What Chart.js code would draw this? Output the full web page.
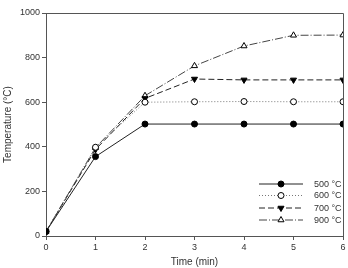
<!DOCTYPE html>
<html>
<head>
<meta charset="utf-8">
<script src="https://cdn.jsdelivr.net/npm/chart.js@4"></script>
<style>
  html, body { margin: 0; padding: 0; background: #fff; }
  #wrap { width: 348px; height: 268px; }
</style>
</head>
<body>
<div id="wrap"><canvas id="c" width="348" height="268"></canvas></div>
<script>
// time in minutes
const times = [0, 1, 2, 3, 4, 5, 6]
const labels500 = "500 °C"
const labels600 = "600 °C"
const labels700 = "700 °C"
const labels900 = "900 °C"
const t500 = [20, 356, 502, 502, 502, 502, 502]
const t600 = [20, 398, 600, 602, 603, 602, 602]
const t700 = [20, 388, 617, 704, 700, 700, 700]
const t900 = [20, 396, 629, 763, 852, 900, 901]
const yTicks = [0, 200, 400, 600, 800, 1000]

const FONT = "'Liberation Sans', Arial, sans-serif"
const TXT = "#333"

function pts(arr) {
    return arr.map((v, i) => ({ x: times[i], y: v }))
}

function drawMarker(ctx, ds, x, y) {
    ctx.save()
    ctx.fillStyle = ds.pointBackgroundColor
    ctx.strokeStyle = ds.pointBorderColor
    ctx.lineWidth = 1
    Chart.helpers.drawPoint(ctx, {
        pointStyle: ds.pointStyle,
        radius: ds.pointRadius,
        rotation: ds.pointRotation || 0,
        borderWidth: 1
    }, x, y)
    ctx.restore()
}

// frame on top/right + custom legend (line with marker in the middle)
const framePlugin = {
    id: 'frame',
    afterDraw(chart) {
        const { ctx, chartArea: a } = chart
        ctx.save()
        ctx.strokeStyle = "#555"
        ctx.lineWidth = 1
        ctx.beginPath()
        ctx.moveTo(a.left, a.top + 0.5)
        ctx.lineTo(a.right + 0.5, a.top + 0.5)
        ctx.lineTo(a.right + 0.5, a.bottom)
        ctx.stroke()

        // legend
        const rows = [184, 195.5, 208, 220]
        chart.data.datasets.forEach((ds, i) => {
            const y = rows[i]
            ctx.strokeStyle = ds.borderColor
            ctx.lineWidth = ds.borderWidth
            ctx.setLineDash(ds.borderDash || [])
            ctx.beginPath()
            ctx.moveTo(259, y)
            ctx.lineTo(303, y)
            ctx.stroke()
            ctx.setLineDash([])
            drawMarker(ctx, ds, 281, y)
            ctx.fillStyle = TXT
            ctx.font = "9px " + FONT
            ctx.textBaseline = "middle"
            ctx.fillText(ds.label, 314, y + 0.5)
        })
        ctx.restore()
    }
}

const common = {
    borderWidth: 1,
    pointRadius: 3,
    pointBorderWidth: 1,
    pointBorderColor: "#000",
    tension: 0
}

new Chart(document.getElementById("c"), {
    type: 'line',
    data: {
        datasets: [
            Object.assign({}, common, {
                label: labels500, data: pts(t500),
                borderColor: "#222", pointStyle: 'circle',
                pointBackgroundColor: "#000"
            }),
            Object.assign({}, common, {
                label: labels600, data: pts(t600),
                borderColor: "#777", borderDash: [1, 2], pointStyle: 'circle',
                pointBackgroundColor: "#fff"
            }),
            Object.assign({}, common, {
                label: labels700, data: pts(t700),
                borderColor: "#222", borderDash: [6, 3], pointStyle: 'triangle',
                pointRotation: 180, pointBackgroundColor: "#000", pointRadius: 3.5
            }),
            Object.assign({}, common, {
                label: labels900, data: pts(t900),
                borderColor: "#444", borderDash: [8, 2, 1, 2], pointStyle: 'triangle',
                pointBackgroundColor: "#fff", pointRadius: 3.5
            })
        ]
    },
    options: {
        responsive: false,
        animation: false,
        layout: { padding: { top: 13, right: 5, left: 2, bottom: 0 } },
        plugins: {
            legend: { display: false },
            tooltip: { enabled: false }
        },
        scales: {
            x: {
                type: 'linear',
                min: 0,
                max: 6,
                afterFit: (s) => { s.height = 32 },
                grid: { drawOnChartArea: false, tickLength: 4, color: "#555" },
                border: { color: "#555" },
                ticks: { stepSize: 1, color: TXT, font: { family: FONT, size: 9 }, padding: 2 },
                title: {
                    display: true, text: "Time (min)", color: TXT,
                    font: { family: FONT, size: 10 }, padding: { top: 3, bottom: 0 }
                }
            },
            y: {
                min: 0,
                max: 1000,
                afterFit: (s) => { s.width = 44 },
                afterBuildTicks: (s) => { s.ticks = yTicks.map(v => ({ value: v })) },
                grid: { drawOnChartArea: false, tickLength: 4, color: "#555" },
                border: { color: "#555" },
                ticks: {
                    color: TXT, font: { family: FONT, size: 9 }, padding: 2,
                    callback: (v) => String(v)
                },
                title: {
                    display: true, text: "Temperature (°C)", color: TXT,
                    font: { family: FONT, size: 10 }, padding: { top: 0, bottom: 6 }
                }
            }
        }
    },
    plugins: [framePlugin]
})
</script>
</body>
</html>
